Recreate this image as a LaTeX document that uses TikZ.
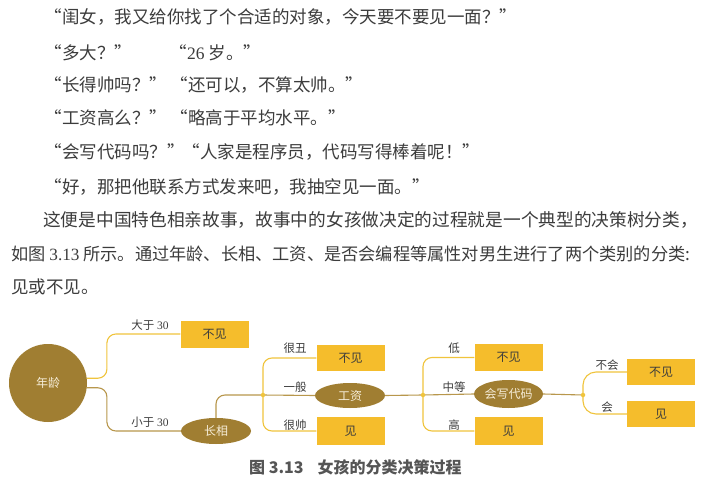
\documentclass[tikz,border=0pt]{standalone}
\usepackage{fontspec}
\usetikzlibrary{shapes.geometric}
\newfontfamily\cjk{Noto Sans CJK SC}
\newfontfamily\lat{Liberation Serif}
\definecolor{bodyc}{HTML}{3C3C3C}
\definecolor{brownc}{HTML}{A07E32}
\definecolor{boxc}{HTML}{F5BD2C}
\definecolor{trunkc}{HTML}{B8974C}
\definecolor{branchc}{HTML}{F0C43C}
\definecolor{etxt}{HTML}{F6EDD8}
\definecolor{capc}{HTML}{555555}
\tikzset{
  body/.style={anchor=west, inner sep=0, text=bodyc, font=\cjk\fontsize{17.5}{20}\selectfont},
  leaf/.style={fill=boxc, minimum width=68pt, minimum height=27pt, inner sep=0, text=bodyc, font=\cjk\fontsize{12}{12}\selectfont},
  attr/.style={ellipse, fill=brownc, minimum width=70pt, minimum height=26pt, inner sep=0, text=etxt, font=\cjk\fontsize{12}{12}\selectfont},
  lbl/.style={inner sep=0, text=bodyc, font=\cjk\fontsize{11.5}{12}\selectfont},
  trunk/.style={draw=trunkc, line width=1.1pt, rounded corners=9pt},
  branch/.style={draw=branchc, line width=1.1pt, rounded corners=9pt},
  jdot/.style={circle, fill=branchc, inner sep=0, minimum size=4.5pt}
}
\begin{document}
\begin{tikzpicture}[x=1pt,y=-1pt]
\useasboundingbox[fill=white] (0,0) rectangle (710,487);
% body text
\node[body] (t1) at (44.5,17) {“闺女，我又给你找了个合适的对象，今天要不要见一面？”};
\node[body] (t2a) at (44.5,53) {“多大？”};
\node[body] (t2b) at (169.5,53) {“{\lat 26} 岁。”};
\node[body] (t3a) at (44.5,85) {“长得帅吗？”};
\node[body] (t3b) at (170.5,85) {“还可以，不算太帅。”};
\node[body] (t4a) at (44.5,118) {“工资高么？”};
\node[body] (t4b) at (170.5,118) {“略高于平均水平。”};
\node[body] (t5a) at (44.5,152) {“会写代码吗？”};
\node[body] (t5b) at (182.5,152) {“人家是程序员，代码写得棒着呢！”};
\node[body] (t6) at (44.5,187) {“好，那把他联系方式发来吧，我抽空见一面。”};
\node[body, font=\cjk\fontsize{17.7}{20}\selectfont] (t7) at (43,220) {这便是中国特色相亲故事，故事中的女孩做决定的过程就是一个典型的决策树分类，};
\node[body, font=\cjk\fontsize{17.2}{20}\selectfont] (t8) at (11,254) {如图 {\lat 3.13} 所示。通过年龄、长相、工资、是否会编程等属性对男生进行了两个类别的分类:};
\node[body] (t9) at (11,287) {见或不见。};
% tree nodes
\node[circle, fill=brownc, minimum size=78pt, inner sep=0, text=etxt, font=\cjk\fontsize{12}{12}\selectfont] (age) at (48,383) {年龄};
\node[leaf] (n1) at (214.5,334) {不见};
\node[attr] (look) at (216,431) {长相};
\coordinate (j1) at (263,395);
\node[leaf, minimum height=26pt] (n2) at (350.5,358) {不见};
\node[attr, minimum height=25pt] (sal) at (350,395.5) {工资};
\node[leaf, minimum height=28pt] (y2) at (350.5,431) {见};
\coordinate (j2) at (423,395);
\node[leaf] (n3) at (508.5,357.5) {不见};
\node[attr, minimum height=28pt, minimum width=69pt] (code) at (508.5,394) {会写代码};
\node[leaf, minimum height=28pt] (y3) at (508.5,431) {见};
\coordinate (j3) at (583,395);
\node[leaf, minimum height=26pt] (n4) at (661,372) {不见};
\node[leaf, minimum height=26pt] (y4) at (661,414) {见};
% connectors
\draw[branch] (age.7) -- ++(20,0) |- (n1.west);
\draw[trunk] (age.-7) -- ++(20,0) |- (look.west);
\draw[trunk] (look.north) |- (j1) -- (sal.west);
\draw[branch] (j1) |- (n2.west);
\draw[branch] (j1) |- (y2.west);
\draw[trunk] (sal.east) -- (j2) -- (code.west);
\draw[branch] (j2) |- (n3.west);
\draw[branch] (j2) |- (y3.west);
\draw[trunk] (code.east) -- (j3);
\draw[branch, rounded corners=13pt] (j3) |- (n4.west);
\draw[branch, rounded corners=13pt] (j3) |- (y4.west);
\node[jdot] (d1) at (j1) {};
\node[jdot] (d2) at (j2) {};
\node[jdot] (d3) at (j3) {};
% labels
\node[lbl] (l1) at (150,325) {大于 {\lat 30}};
\node[lbl] (l2) at (150,422) {小于 {\lat 30}};
\node[lbl] (l3) at (295,348) {很丑};
\node[lbl] (l4) at (295,387) {一般};
\node[lbl] (l5) at (295,425) {很帅};
\node[lbl] (l6) at (454,348) {低};
\node[lbl] (l7) at (454,387) {中等};
\node[lbl] (l8) at (454,425) {高};
\node[lbl] (l9) at (607,365) {不会};
\node[lbl] (l10) at (607,407) {会};
% caption
\node[anchor=west, inner sep=0, text=capc, font=\cjk\bfseries\fontsize{16}{16}\selectfont] (cap) at (249,467) {图 3.13\hspace{14pt}女孩的分类决策过程};
\end{tikzpicture}
\end{document}
